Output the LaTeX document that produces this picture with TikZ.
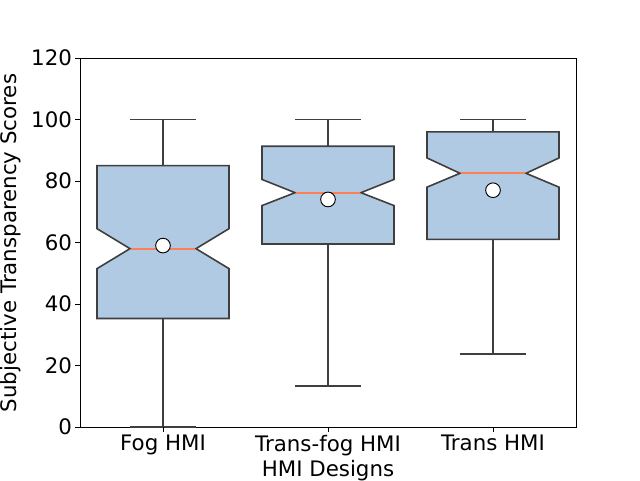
\documentclass[tikz,border=0pt]{standalone}
\usepackage{fontspec}
\setmainfont{DejaVu Sans}
\definecolor{boxfill}{HTML}{B0CAE3}
\definecolor{boxedge}{HTML}{3F3F3F}
\definecolor{medcol}{HTML}{FF7F50}
\tikzset{
  boxbody/.style={fill=boxfill, draw=boxedge, line width=1.2pt, line join=miter},
  whisk/.style={draw=boxedge, line width=1.2pt},
  medline/.style={draw=medcol, line width=1.4pt},
  meanpt/.style={circle, fill=white, draw=black, line width=0.7pt, minimum size=11pt, inner sep=0pt},
  ticklab/.style={font=\fontsize{16}{19}\selectfont},
}
\begin{document}
\begin{tikzpicture}[x=0.75pt, y=0.75pt]
\useasboundingbox (0,0) rectangle (640,480);
% axes frame and y ticks
\draw[line width=0.6pt] (80,53) rectangle (576,422);
\begin{scope}[shift={(0,53)}, yscale=3.075]
\foreach \v in {0,20,...,120}
  \draw[line width=0.6pt] (80,\v) -- (75,\v) node[ticklab, left, inner sep=2pt] {\v};
% boxes: center, whisker low, q1, notch low, median, notch high, q3, whisker high, mean
\foreach \c/\lo/\qa/\na/\md/\nb/\qb/\hi/\mn in {
    163/0/35.3/51.5/58/64.5/85/100/59,
    328/13.3/59.5/72/76.2/80.5/91.3/100/74,
    493/23.8/61/78/82.5/87.5/96/100/77}{
  \draw[whisk] (\c,\qa) -- (\c,\lo) (\c-33,\lo) -- (\c+33,\lo);
  \draw[whisk] (\c,\qb) -- (\c,\hi) (\c-33,\hi) -- (\c+33,\hi);
  \draw[boxbody] (\c-66,\qa) -- (\c-66,\na) -- (\c-33,\md) -- (\c-66,\nb) -- (\c-66,\qb)
    -- (\c+66,\qb) -- (\c+66,\nb) -- (\c+33,\md) -- (\c+66,\na) -- (\c+66,\qa) -- cycle;
  \draw[medline] (\c-32,\md) -- (\c+32,\md);
  \node[meanpt] at (\c,\mn) {};
}
\end{scope}
% x ticks
\foreach \c/\t in {163/Fog HMI, 328/Trans-fog HMI, 493/Trans HMI}
  \draw[line width=0.6pt] (\c,53) -- (\c,48) node[ticklab, below, inner sep=2pt] {\t};
\node[ticklab] (xlab) at (328,9) {HMI Designs};
\node[ticklab, rotate=90] (ylab) at (11,237) {Subjective Transparency Scores};
\end{tikzpicture}
\end{document}
